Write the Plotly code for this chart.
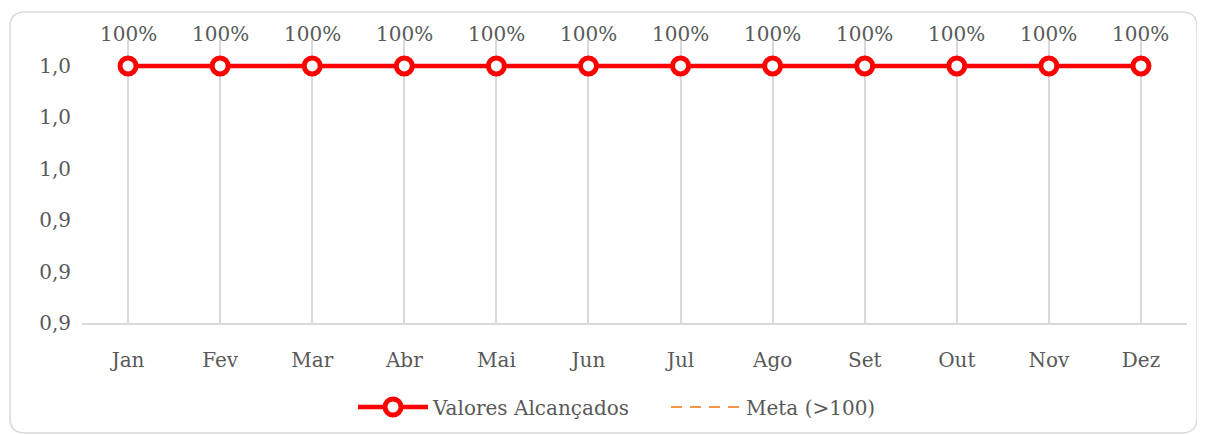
import plotly.graph_objects as go

meses = ["Jan", "Fev", "Mar", "Abr", "Mai", "Jun", "Jul", "Ago", "Set", "Out", "Nov", "Dez"]
valores = [1.0, 1.0, 1.0, 1.0, 1.0, 1.0, 1.0, 1.0, 1.0, 1.0, 1.0, 1.0]
meta = [1.0, 1.0, 1.0, 1.0, 1.0, 1.0, 1.0, 1.0, 1.0, 1.0, 1.0, 1.0]
y_tickvals = [0.90, 0.92, 0.94, 0.96, 0.98, 1.00]
y_ticktext = ["0,9", "0,9", "0,9", "1,0", "1,0", "1,0"]

FONT = "DejaVu Serif"
GRAY = "#595959"
FS = 20

W, H = 1205, 435
OFF = 8  # page body margin
L, R, T, B = 82 - OFF, 1205 - 1187 + OFF, 40 - OFF, 435 - 323 + OFF
pw, ph = W - L - R, H - T - B

fig = go.Figure()
fig.add_trace(go.Scatter(
    x=meses, y=meta, name="Meta (>100)", mode="lines",
    line=dict(color="#F79646", width=2, dash="11px,8px"),
    legendrank=2, cliponaxis=False,
))
fig.add_trace(go.Scatter(
    x=meses, y=valores, name="Valores Alcançados", mode="lines+markers",
    line=dict(color="#FF0000", width=4.5),
    marker=dict(symbol="circle", size=16, color="white", line=dict(color="#FF0000", width=5)),
    legendrank=1, cliponaxis=False,
))

for m, v in zip(meses, valores):
    fig.add_annotation(x=m, y=v, text=f"{v:.0%}", showarrow=False, yshift=32,
                       font=dict(family=FONT, size=FS, color=GRAY))

def px(x):
    return (x - OFF - L) / pw

def py(y):
    return (H - B - (y - OFF)) / ph

x0, x1, y0, y1, r = 10, 1197, 12, 433, 15
path = (f"M {px(x0+r)},{py(y0)} L {px(x1-r)},{py(y0)} Q {px(x1)},{py(y0)} {px(x1)},{py(y0+r)} "
        f"L {px(x1)},{py(y1-r)} Q {px(x1)},{py(y1)} {px(x1-r)},{py(y1)} "
        f"L {px(x0+r)},{py(y1)} Q {px(x0)},{py(y1)} {px(x0)},{py(y1-r)} "
        f"L {px(x0)},{py(y0+r)} Q {px(x0)},{py(y0)} {px(x0+r)},{py(y0)} Z")
fig.add_shape(type="path", path=path, xref="paper", yref="paper",
              line=dict(color="#D9D9D9", width=1.5), layer="below")

fig.update_layout(
    width=W, height=H,
    margin=dict(l=L, r=R, t=T, b=B),
    paper_bgcolor="white", plot_bgcolor="white",
    font=dict(family=FONT, size=FS, color=GRAY),
    showlegend=True,
    legend=dict(orientation="h", x=px(353), xanchor="left", y=py(407), yanchor="middle",
                itemwidth=70, entrywidth=228, entrywidthmode="pixels",
                font=dict(family=FONT, size=FS, color=GRAY), traceorder="normal"),
    xaxis=dict(type="category", range=[-0.5, 11.5], showgrid=True, gridcolor="#D9D9D9", gridwidth=1.5,
               showline=True, linecolor="#D9D9D9", linewidth=1.5, ticks="", zeroline=False,
               ticklabelstandoff=18, tickfont=dict(family=FONT, size=FS, color=GRAY), fixedrange=True),
    yaxis=dict(range=[0.9, 1.0101], tickvals=y_tickvals, ticktext=y_ticktext, showgrid=False,
               showline=False, zeroline=False, ticks="", ticklabelstandoff=10,
               tickfont=dict(family=FONT, size=FS, color=GRAY), fixedrange=True),
)

fig.write_html("out.html")
